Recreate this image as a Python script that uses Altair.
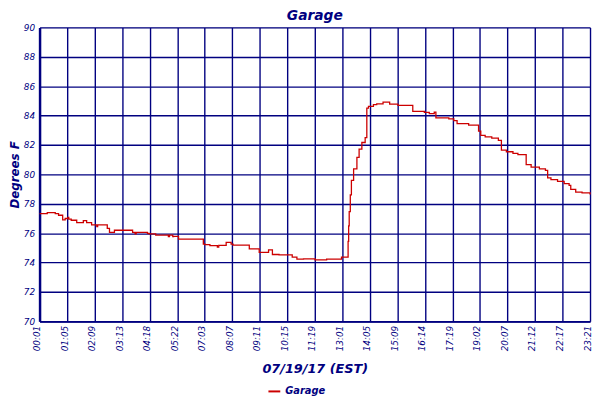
import altair as alt
import pandas as pd

# Tick labels of the x axis (sample index axis, evenly spaced)
tick_labels = ["00:01", "01:05", "02:09", "03:13", "04:18", "05:22", "07:03",
               "08:07", "09:11", "10:15", "11:19", "13:01", "14:05", "15:09",
               "16:14", "17:19", "19:02", "20:07", "21:12", "22:17", "23:21"]

# Position along the x axis (in tick intervals) where each reading starts
positions = [0.00, 0.28, 0.57, 0.69, 0.84, 0.93, 1.03, 1.06, 1.15, 1.35,
             1.59, 1.71, 1.89, 2.08, 2.11, 2.46, 2.54, 2.72, 3.38, 3.47,
             3.51, 3.92, 3.98, 4.22, 4.68, 4.72, 4.84, 4.87, 5.05, 5.95,
             6.01, 6.19, 6.46, 6.51, 6.78, 6.96, 7.03, 7.62, 7.98, 8.32,
             8.46, 8.70, 9.18, 9.35, 9.59, 10.01, 10.43, 10.97, 11.21, 11.23,
             11.25, 11.29, 11.33, 11.41, 11.53, 11.61, 11.71, 11.83, 11.89, 11.95,
             12.13, 12.25, 12.48, 12.72, 13.02, 13.56, 13.98, 14.16, 14.34, 14.40,
             14.87, 15.05, 15.17, 15.59, 15.95, 16.03, 16.19, 16.43, 16.67, 16.78,
             16.96, 17.20, 17.38, 17.68, 17.86, 18.16, 18.38, 18.46, 18.58, 18.82,
             19.06, 19.24, 19.30, 19.48, 19.71, 20.00]

# Garage temperature readings (degrees F)
temps = [77.33, 77.40, 77.33, 77.22, 76.90, 77.00, 77.07, 76.95, 76.88, 76.72,
         76.86, 76.72, 76.57, 76.45, 76.57, 76.32, 76.05, 76.20, 76.05, 75.96,
         76.05, 75.98, 75.96, 75.87, 75.76, 75.87, 75.76, 75.78, 75.60, 75.26,
         75.22, 75.15, 75.05, 75.17, 75.37, 75.26, 75.19, 74.93, 74.70, 74.86,
         74.55, 74.52, 74.37, 74.23, 74.25, 74.19, 74.23, 74.37, 75.45, 76.50,
         77.47, 78.60, 79.60, 80.38, 81.16, 81.72, 82.17, 82.50, 84.51, 84.63,
         84.74, 84.80, 84.92, 84.78, 84.70, 84.29, 84.22, 84.13, 84.24, 83.84,
         83.78, 83.66, 83.46, 83.35, 82.95, 82.66, 82.55, 82.46, 82.32, 81.65,
         81.54, 81.43, 81.34, 80.67, 80.49, 80.38, 80.27, 79.77, 79.64, 79.53,
         79.37, 79.26, 78.98, 78.80, 78.74, 78.63]

series_name = "Garage"

NAVY = "#000080"
RED = "#CC0000"
FONT = "DejaVu Sans"

df = pd.DataFrame({"pos": positions, "temp": temps, "series": series_name})
label_expr = "[" + ",".join("'%s'" % t for t in tick_labels) + "][datum.value]"

axis_style = dict(labelFont=FONT, labelFontSize=9, labelFontStyle="italic",
                  labelColor=NAVY, titleFont=FONT, titleFontStyle="italic",
                  titleFontWeight="bold", titleColor=NAVY, ticks=False,
                  domainColor=NAVY, gridColor=NAVY, gridWidth=1.4, gridOpacity=1)

chart = alt.Chart(df).mark_line(interpolate="step-after", strokeWidth=1.3).encode(
    x=alt.X("pos:Q",
            scale=alt.Scale(domain=[0, 20], nice=False, zero=False),
            axis=alt.Axis(values=list(range(len(tick_labels))), labelExpr=label_expr,
                          labelAngle=270, title="07/19/17 (EST)", titleFontSize=13,
                          labelPadding=4, titlePadding=12, labelOffset=-3,
                          domainWidth=2, **axis_style)),
    y=alt.Y("temp:Q",
            scale=alt.Scale(domain=[70, 90], nice=False, zero=False),
            axis=alt.Axis(values=list(range(70, 91, 2)), title="Degrees F",
                          titleFontSize=12, labelPadding=5, titlePadding=2,
                          domainWidth=2.5, **axis_style)),
    color=alt.Color("series:N", scale=alt.Scale(range=[RED]),
                    legend=alt.Legend(title=None, orient="none", legendX=231, legendY=362,
                                      symbolType="stroke", symbolSize=144,
                                      symbolStrokeWidth=2,
                                      labelFont=FONT, labelFontSize=10,
                                      labelFontStyle="italic", labelFontWeight="bold",
                                      labelColor=NAVY)),
).properties(
    width=558,
    height=298,
    title=alt.TitleParams("Garage", fontSize=14, font=FONT, fontStyle="italic",
                          fontWeight="bold", color=NAVY, anchor="middle", offset=1),
    autosize=alt.AutoSizeParams(type="none"),
    padding={"left": 32, "top": 17, "right": 2, "bottom": 75},
).configure_view(
    stroke=NAVY, strokeWidth=2
).configure(background="white")

chart.save("out.html", embed_options={"renderer": "svg", "actions": False})
